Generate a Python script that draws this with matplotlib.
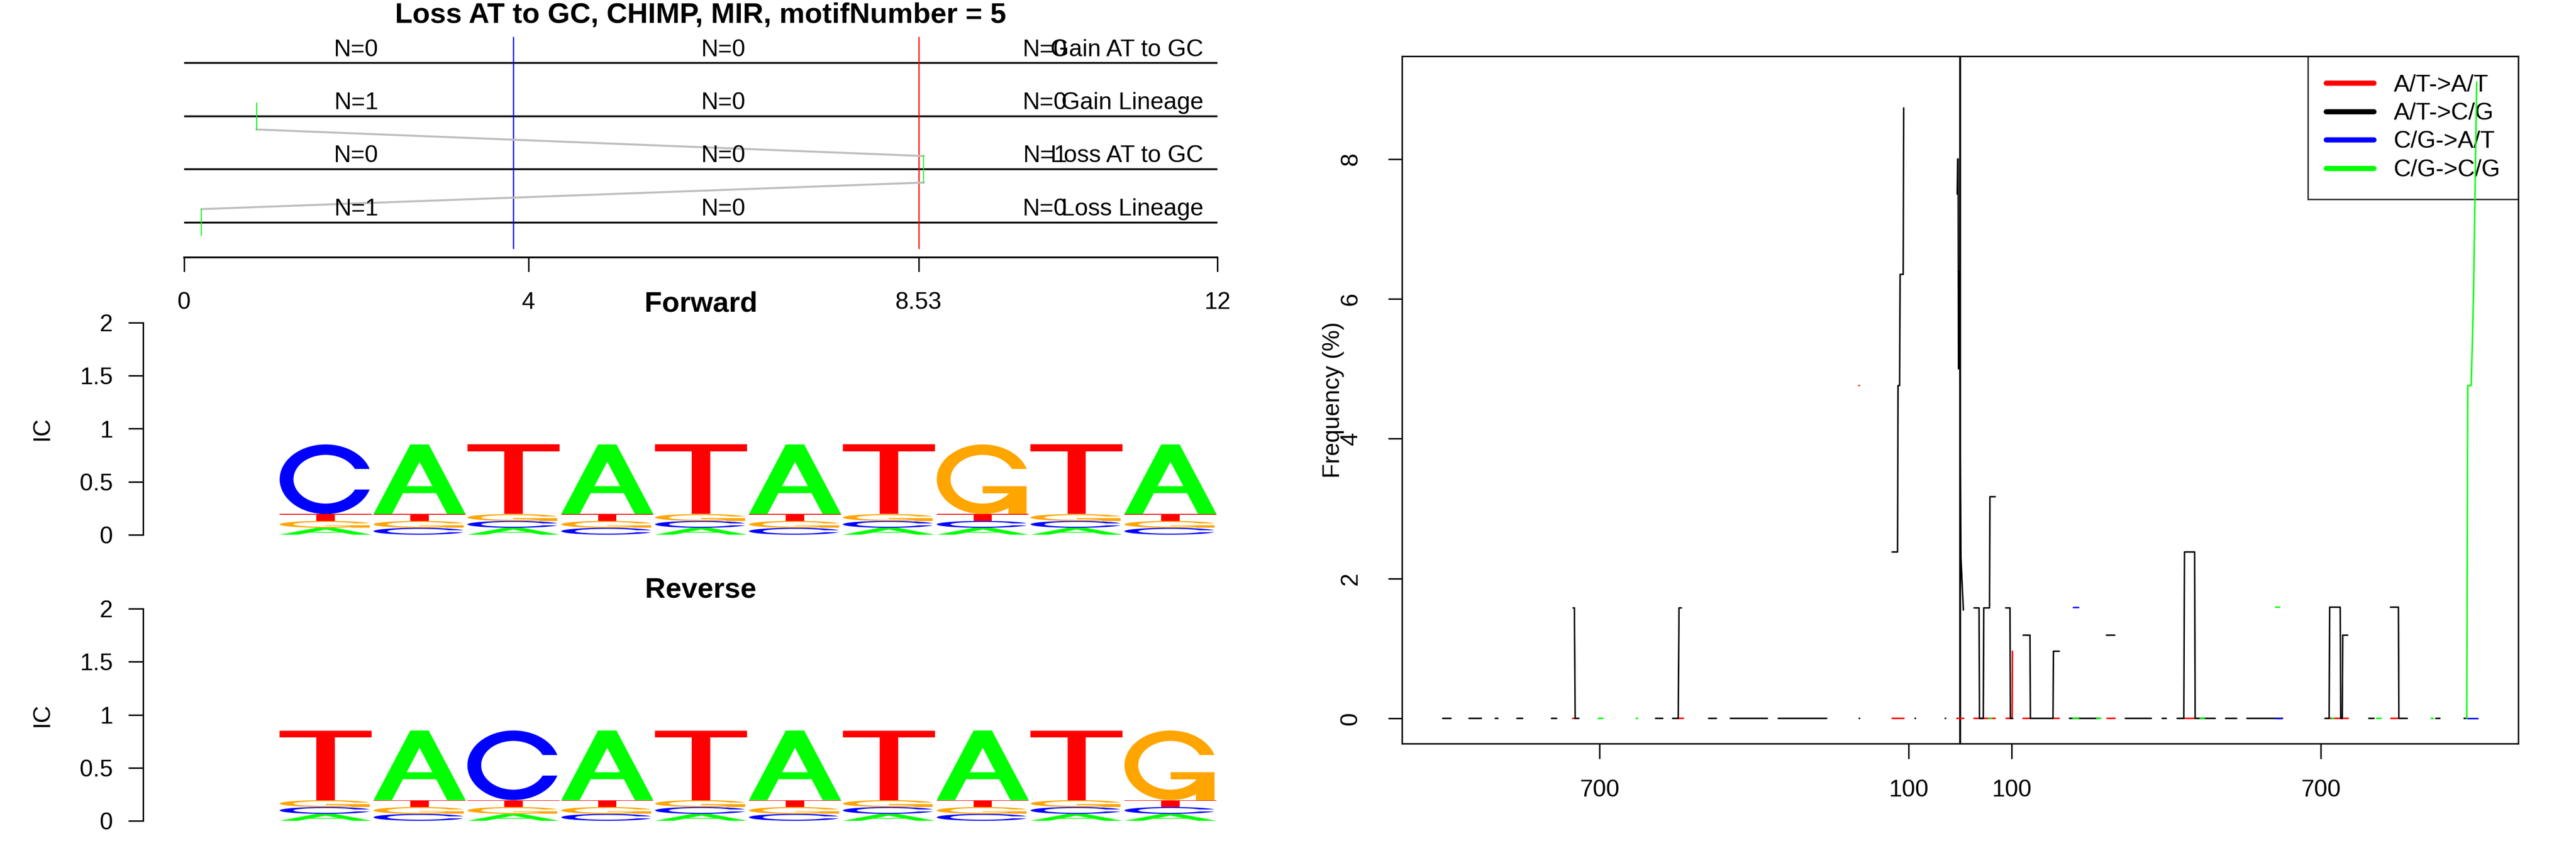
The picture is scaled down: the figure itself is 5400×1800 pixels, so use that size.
import numpy as np
import matplotlib
matplotlib.use("Agg")
import matplotlib.pyplot as plt
from matplotlib.patches import Polygon
from matplotlib.lines import Line2D

plt.rcParams['font.family'] = ['Liberation Sans', 'DejaVu Sans']

# ---------------- data ----------------
main_title = "Loss AT to GC, CHIMP, MIR, motifNumber = 5"
track_names = ["Gain AT to GC", "Gain Lineage", "Loss AT to GC", "Loss Lineage"]
track_counts = [[0, 0, 0], [1, 0, 0], [0, 0, 1], [1, 0, 0]]
count_label_x = [2.0, 6.265, 10.0]
event_x = [None, 0.84, 8.59, 0.2]
blue_mark = 3.82
red_mark = 8.53
track_ticks = [0, 4, 8.53, 12]
track_ticklabels = ["0", "4", "8.53", "12"]

logo_letters = ["A", "C", "G", "T"]
# heights (A, C, G, T) for each column
fwd_heights = [
    [0.065, 0.657, 0.065, 0.065],  # C
    [0.657, 0.065, 0.065, 0.065],  # A
    [0.065, 0.065, 0.065, 0.657],  # T
    [0.657, 0.065, 0.065, 0.065],  # A
    [0.065, 0.065, 0.065, 0.657],  # T
    [0.657, 0.065, 0.065, 0.065],  # A
    [0.065, 0.065, 0.065, 0.657],  # T
    [0.065, 0.065, 0.657, 0.065],  # G
    [0.065, 0.065, 0.065, 0.657],  # T
    [0.657, 0.065, 0.065, 0.065],  # A
]
rev_heights = [
    [0.065, 0.065, 0.065, 0.657],  # T
    [0.657, 0.065, 0.065, 0.065],  # A
    [0.065, 0.657, 0.065, 0.065],  # C
    [0.657, 0.065, 0.065, 0.065],  # A
    [0.065, 0.065, 0.065, 0.657],  # T
    [0.657, 0.065, 0.065, 0.065],  # A
    [0.065, 0.065, 0.065, 0.657],  # T
    [0.657, 0.065, 0.065, 0.065],  # A
    [0.065, 0.065, 0.065, 0.657],  # T
    [0.065, 0.065, 0.657, 0.065],  # G
]
ic_ticks = [0, 0.5, 1, 1.5, 2]
ic_ticklabels = ["0", "0.5", "1", "1.5", "2"]

series_names = ["A/T->A/T", "A/T->C/G", "C/G->A/T", "C/G->C/G"]
series_colors = ["#FF0000", "#000000", "#0000FF", "#00FF00"]

red_x = [[-752, -747], [-547, -537], [-196.5, -195.5], [-132, -109], [-6.5, 7],
         [26.7, 68], [89, 101, 101.5], [122, 137], [180, 192], [285, 300.6],
         [435, 455], [716, 753], [835.6, 850]]
red_y = [[0, 0], [0, 0], [4.76, 4.76], [0, 0], [0, 0],
         [0, 0], [0, 0, 0.96], [0, 0], [0, 0], [0, 0],
         [0, 0], [0, 0], [0, 0]]

black_x = [[-1004, -988], [-953, -929], [-902, -897], [-860, -849], [-793, -783],
           [-751, -748.5, -747, -740], [-591, -577], [-558, -547, -545.5, -541],
           [-488, -473], [-446, -374], [-353, -259], [-196, -195],
           [-132, -121.5, -120.5, -117.5, -116.5, -110.5, -109.5],
           [-87.5, -86.5], [-29, -28],
           [-5.7, -4.8, -3.9, -3.2, -1.6, 1.5, 6.3],
           [27, 36.7, 37.5, 45, 45.8, 57, 57.8, 68],
           [88.4, 96.7, 97.5, 102],
           [122.2, 135.5, 136.3, 180.2, 181, 192.3],
           [212, 270], [283.8, 300], [320.5, 371], [392, 400],
           [421, 434, 435.3, 455, 456, 495], [515, 536.5], [556.5, 625.6],
           [708, 716, 717, 737.5, 738.5, 741.5, 742.4, 752],
           [793, 803], [835, 850.5, 851.3, 867.6], [923, 931], [978, 984]]
black_y = [[0, 0], [0, 0], [0, 0], [0, 0], [0, 0],
           [1.58, 1.58, 0, 0], [0, 0], [0, 0, 1.58, 1.58],
           [0, 0], [0, 0], [0, 0], [0, 0],
           [2.38, 2.38, 4.76, 4.76, 6.35, 6.35, 8.73],
           [0, 0], [0, 0],
           [7.5, 8.0, 8.0, 5.0, 6.4, 2.3, 1.55],
           [1.58, 1.58, 0, 0, 1.58, 1.58, 3.17, 3.17],
           [1.58, 1.58, 0, 0],
           [1.19, 1.19, 0, 0, 0.96, 0.96],
           [0, 0], [1.19, 1.19], [0, 0], [0, 0],
           [0, 0, 2.38, 2.38, 0, 0], [0, 0], [0, 0],
           [0, 0, 1.59, 1.59, 0, 0, 1.19, 1.19],
           [0, 0], [1.59, 1.59, 0, 0], [0, 0], [0, 0]]

blue_x = [[219, 229.6], [612, 623], [985, 1004]]
blue_y = [[1.59, 1.59], [0, 0], [0, 0]]

green_x = [[-702, -693], [-628.5, -626], [56, 61], [219, 229.6], [265, 273],
           [466, 474], [612, 620], [721, 725], [808, 817], [914, 918],
           [983, 985, 991.7, 996, 1002.3]]
green_y = [[0, 0], [0, 0], [0, 0], [0, 0], [0, 0],
           [0, 0], [1.59, 1.59], [0, 0], [0, 0], [0, 0],
           [0, 4.76, 4.76, 6.0, 9.1]]

freq_xticks = [-700, -100, 100, 700]
freq_xticklabels = ["700", "100", "100", "700"]
freq_yticks = [0, 2, 4, 6, 8]

# ---------------- figure ----------------
W, H, DPI = 5400, 1800, 300
fig = plt.figure(figsize=(W / DPI, H / DPI), dpi=DPI)
fig.patch.set_facecolor("white")


def add_ax(x0, y0, x1, y1):
    return fig.add_axes([x0 / W, 1 - y1 / H, (x1 - x0) / W, (y1 - y0) / H])


FS = 12
TFS = 14.4

# ---- top track panel ----
ax = add_ax(386, 59, 2552, 540)
ax.set_xlim(0, 12)
ax.set_ylim(0.34, 4.66)
for s in ["top", "right", "left"]:
    ax.spines[s].set_visible(False)
ax.spines["bottom"].set_linewidth(0.9)
ax.set_yticks([])
ax.set_xticks(track_ticks)
ax.set_xticklabels(track_ticklabels)
ax.tick_params(axis="x", length=7.2, width=0.75, pad=10, labelsize=FS)
n = len(track_names)
rows = [n - i for i in range(n)]
for ry in rows:
    ax.plot([0, 12], [ry, ry], color="black", lw=0.9, solid_capstyle="butt", zorder=2)
ax.vlines([blue_mark], 0.5, 4.5, colors="#0000FF", lw=0.6, zorder=3)
ax.vlines([red_mark], 0.5, 4.5, colors="#FF0000", lw=0.6, zorder=3)
ev = [(event_x[i], rows[i]) for i in range(n) if event_x[i] is not None]
for (xa, ya), (xb, yb) in zip(ev[:-1], ev[1:]):
    ax.plot([xa, xb], [ya - 0.25, yb + 0.25], color="#BEBEBE", lw=1.0, zorder=3)
for xe, ye in ev:
    ax.plot([xe, xe], [ye - 0.25, ye + 0.25], color="#00FF00", lw=0.5, zorder=4)
for i in range(n):
    for j, c in enumerate(track_counts[i]):
        ax.text(count_label_x[j], rows[i] + 0.25, "N=%d" % c, ha="center",
                va="center", fontsize=FS)
    ax.text(11.84, rows[i] + 0.25, track_names[i], ha="right", va="center", fontsize=FS)

fig.text(1469 / W, 1 - 48 / H, main_title, ha="center", va="baseline",
         fontsize=TFS, fontweight="bold")

# ---- sequence logos ----
COL = {"A": "#00FF00", "C": "#0000FF", "G": "#FFA500", "T": "#FF0000"}


def glyph(ch):
    if ch == "A":
        xo = np.array([0, 4, 6, 10, 8, 6.8, 3.2, 2, 0]) * 0.1
        yo = np.array([0, 10, 10, 0, 0, 3, 3, 0, 0]) * 0.1
        xi = np.array([3.6, 5, 6.4, 3.6]) * 0.1
        yi = np.array([4, 7.5, 4, 4]) * 0.1
        return [(xo, yo, COL["A"]), (xi, yi, "white")]
    if ch == "T":
        xo = np.array([0, 10, 10, 6, 6, 4, 4, 0]) * 0.1
        yo = np.array([10, 10, 9, 9, 0, 0, 9, 9]) * 0.1
        return [(xo, yo, COL["T"])]
    a1 = np.linspace(0.3 + np.pi / 2, np.pi, 100)
    a2 = np.linspace(np.pi, 1.5 * np.pi, 100)
    xl1 = 0.5 + 0.5 * np.sin(a1); yl1 = 0.5 + 0.5 * np.cos(a1)
    xl2 = 0.5 + 0.5 * np.sin(a2); yl2 = 0.5 + 0.5 * np.cos(a2)
    xl = np.concatenate([xl1, xl2]); yl = np.concatenate([yl1, yl2])
    x = np.concatenate([xl, xl[::-1]]); y = np.concatenate([yl, 1 - yl[::-1]])
    xi1 = 0.5 + 0.35 * np.sin(a1); yi1 = 0.5 + 0.35 * np.cos(a1)
    m = yi1 <= yl1.max()
    xi1 = xi1[m]; yi1 = yi1[m].copy(); yi1[0] = yl1.max()
    xi2 = 0.5 + 0.35 * np.sin(a2); yi2 = 0.5 + 0.35 * np.cos(a2)
    xi = np.concatenate([xi1, xi2]); yi = np.concatenate([yi1, yi2])
    x1 = np.concatenate([xi, xi[::-1]]); y1 = np.concatenate([yi, 1 - yi[::-1]])
    x = np.concatenate([x, x1[::-1]]); y = np.concatenate([y, y1[::-1]])
    out = [(x, y, COL[ch])]
    if ch == "G":
        r1 = xl1.max(); h1 = 0.4
        xa = np.array([r1, 0.5, 0.5, r1 - 0.2, r1 - 0.2, r1, r1])
        ya = np.array([h1, h1, h1 - 0.1, h1 - 0.1, 0, 0, h1])
        out.append((xa, ya, COL["G"]))
    return out


def draw_logo(ax, heights):
    for ci, col in enumerate(heights):
        order = sorted(range(len(logo_letters)), key=lambda k: (col[k], k))
        ybase = 0.0
        x0 = ci + 1 - 0.49
        w = 0.98
        for k in order:
            h = col[k]
            for gx, gy, c in glyph(logo_letters[k]):
                pts = np.column_stack([x0 + w * gx, ybase + h * gy])
                ax.add_patch(Polygon(pts, closed=True, facecolor=c,
                                     edgecolor="none", lw=0))
            ybase += h


def setup_logo(ax):
    ax.set_xlim(-0.945, 10.5)
    ax.set_ylim(-0.08, 2.08)
    for s in ["top", "right", "bottom"]:
        ax.spines[s].set_visible(False)
    ax.spines["left"].set_linewidth(0.75)
    ax.spines["left"].set_bounds(0, 2)
    ax.set_xticks([])
    ax.set_yticks(ic_ticks)
    ax.set_yticklabels(ic_ticklabels)
    ax.tick_params(axis="y", length=7.5, width=0.75, pad=7.7, labelsize=FS)
    ax.patch.set_alpha(0)


axf = add_ax(300, 659.5, 2552, 1139.5)
setup_logo(axf)
draw_logo(axf, fwd_heights)
axr = add_ax(300, 1259.5, 2552, 1739.7)
setup_logo(axr)
draw_logo(axr, rev_heights)
fig.text(1469 / W, 1 - 653 / H, "Forward", ha="center", va="baseline",
         fontsize=TFS, fontweight="bold")
fig.text(1469 / W, 1 - 1254 / H, "Reverse", ha="center", va="baseline",
         fontsize=TFS, fontweight="bold")
fig.text(88 / W, 1 - 899 / H, "IC", rotation=90, ha="center", va="center", fontsize=FS)
fig.text(88 / W, 1 - 1500 / H, "IC", rotation=90, ha="center", va="center", fontsize=FS)

# ---- frequency panel ----
axp = add_ax(2939, 118, 5279, 1560)
axp.set_xlim(-1083, 1083)
axp.set_ylim(-0.361, 9.47)
for s in axp.spines.values():
    s.set_linewidth(0.75)
axp.set_xticks(freq_xticks)
axp.set_xticklabels(freq_xticklabels)
axp.set_yticks(freq_yticks)
axp.set_yticklabels([str(v) for v in freq_yticks])
axp.tick_params(axis="x", length=7.7, width=0.75, pad=10.3, labelsize=FS)
axp.tick_params(axis="y", length=7.0, width=0.75, pad=13.3, labelsize=FS,
                labelrotation=90)
for lab in axp.get_yticklabels():
    lab.set_va("center")
axp.axvline(0, color="black", lw=1.0, zorder=3)


def seg_arrays(xs, ys):
    xx, yy = [], []
    for a, b in zip(xs, ys):
        xx += list(a) + [np.nan]
        yy += list(b) + [np.nan]
    return np.array(xx, float), np.array(yy, float)


all_series = [(red_x, red_y), (black_x, black_y), (blue_x, blue_y), (green_x, green_y)]
for (sx, sy), c in zip(all_series, series_colors):
    xx, yy = seg_arrays(sx, sy)
    axp.plot(xx, yy, color=c, lw=0.75, solid_capstyle="round",
             solid_joinstyle="round", zorder=4)

handles = [Line2D([0], [0], color=c, lw=2.6, solid_capstyle="round") for c in series_colors]
leg = axp.legend(handles, series_names, loc="upper right", bbox_to_anchor=(1, 1),
                 borderaxespad=0, fontsize=FS, handlelength=2.0, handletextpad=0.84,
                 borderpad=0.75, labelspacing=0.27, fancybox=False, framealpha=None)
leg.get_frame().set_edgecolor("black")
leg.get_frame().set_linewidth(0.75)
leg.get_frame().set_facecolor("none")
leg.set_zorder(1)

fig.text(2795 / W, 1 - 839 / H, "Frequency (%)", rotation=90, ha="center",
         va="center", fontsize=FS)

fig.savefig("out.png", dpi=DPI, facecolor="white")
